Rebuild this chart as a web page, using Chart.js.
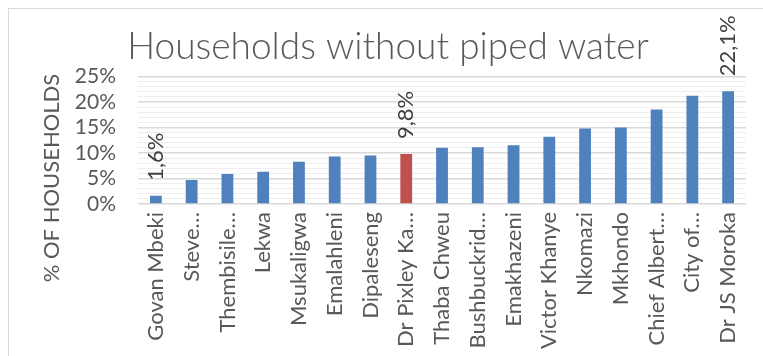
<!DOCTYPE html>
<html>
<head>
<meta charset="utf-8">
<script src="https://cdn.jsdelivr.net/npm/chart.js@4.4.0/dist/chart.umd.min.js"></script>
<style>
    html, body { margin: 0; padding: 0; background: #fff; overflow: hidden; }
    .frame { position: absolute; left: 8px; top: 8px; width: 800px; height: 400px; border: 1px solid #d9d9d9; }
    .chart-box { position: absolute; left: 0; top: 0; width: 763px; height: 356px; }
</style>
</head>
<body>
<div class="frame"></div>
<div class="chart-box"><canvas id="chart"></canvas></div>
<script>
// Local municipalities, sorted by share of households without piped water
const categories = [
    'Govan Mbeki', 'Steve Tshwete', 'Thembisile Hani', 'Lekwa', 'Msukaligwa',
    'Emalahleni', 'Dipaleseng', 'Dr Pixley Ka Isaka Seme', 'Thaba Chweu',
    'Bushbuckridge', 'Emakhazeni', 'Victor Khanye', 'Nkomazi', 'Mkhondo',
    'Chief Albert Luthuli', 'City of Mbombela', 'Dr JS Moroka'
];
// what actually fits under each bar
const tickLabels = [
    'Govan Mbeki', 'Steve…', 'Thembisile…', 'Lekwa', 'Msukaligwa',
    'Emalahleni', 'Dipaleseng', 'Dr Pixley Ka…', 'Thaba Chweu',
    'Bushbuckrid…', 'Emakhazeni', 'Victor Khanye', 'Nkomazi', 'Mkhondo',
    'Chief Albert…', 'City of…', 'Dr JS Moroka'
];
const withoutWater = [1.6, 4.7, 5.9, 6.3, 8.3, 9.3, 9.5, 9.8, 11.0, 11.1, 11.5, 13.2, 14.8, 15.0, 18.5, 21.2, 22.1];
const highlighted = ['Dr Pixley Ka Isaka Seme'];
const labelled = ['Govan Mbeki', 'Dr Pixley Ka Isaka Seme', 'Dr JS Moroka'];
const yTicks = [0, 5, 10, 15, 20, 25];

const BLUE = '#4f81bd';
const RED = '#c0504d';
const TEXT = '#595959';
const FONT = 'Lato, "Liberation Sans", sans-serif';

const pct = v => v.toFixed(1).replace('.', ',') + '%';

// rotated value labels sitting above a few bars
const valueLabels = {
    id: 'valueLabels',
    afterDatasetsDraw(chart) {
        const ctx = chart.ctx;
        const bars = chart.getDatasetMeta(0).data;
        ctx.save();
        ctx.font = '22px ' + FONT;
        ctx.fillStyle = '#404040';
        ctx.textAlign = 'left';
        ctx.textBaseline = 'middle';
        categories.forEach((name, i) => {
            if (!labelled.includes(name)) return;
            const bar = bars[i];
            ctx.save();
            ctx.translate(bar.x, bar.y - 15);
            ctx.rotate(-Math.PI / 2);
            ctx.fillText(pct(withoutWater[i]), 0, 0);
            ctx.restore();
        });
        ctx.restore();
    }
};

// y axis title, centred on the whole chart rather than the plot
const yTitle = {
    id: 'yTitle',
    afterDraw(chart) {
        const ctx = chart.ctx;
        ctx.save();
        ctx.font = '22px ' + FONT;
        ctx.fillStyle = TEXT;
        ctx.textAlign = 'center';
        ctx.textBaseline = 'middle';
        ctx.translate(52, chart.height / 2);
        ctx.rotate(-Math.PI / 2);
        ctx.fillText('% OF HOUSEHOLDS', 0, 0);
        ctx.restore();
    }
};

new Chart(document.getElementById('chart'), {
    type: 'bar',
    data: {
        labels: tickLabels,
        datasets: [{
            data: withoutWater,
            backgroundColor: categories.map(c => highlighted.includes(c) ? RED : BLUE),
            barPercentage: 0.33,
            categoryPercentage: 1
        }]
    },
    options: {
        responsive: true,
        maintainAspectRatio: false,
        animation: false,
        layout: { padding: { left: 29, right: 16, top: 0, bottom: 0 } },
        plugins: {
            legend: { display: false },
            tooltip: { enabled: false },
            title: {
                display: true,
                text: 'Households without piped water',
                color: TEXT,
                font: { family: FONT, size: 37, weight: 300 },
                padding: { top: 25, bottom: 7 }
            }
        },
        scales: {
            x: {
                grid: { display: false, drawTicks: false },
                border: { display: false },
                ticks: {
                    color: TEXT,
                    font: { family: FONT, size: 22 },
                    minRotation: 90,
                    maxRotation: 90,
                    autoSkip: false,
                    padding: 8
                },
                afterFit: s => { s.height = 152; }
            },
            y: {
                min: 0,
                max: 25,
                grid: {
                    drawTicks: false,
                    color: c => c.tick.value % 5 === 0 ? '#d9d9d9' : '#efefef',
                    lineWidth: c => c.tick.value % 5 === 0 ? 1.5 : 1
                },
                border: { display: false },
                ticks: {
                    stepSize: 1,
                    autoSkip: false,
                    color: TEXT,
                    font: { family: FONT, size: 21 },
                    padding: 22,
                    callback: v => yTicks.includes(v) ? v + '%' : ''
                },
                afterFit: s => { s.width = 109; }
            }
        }
    },
    plugins: [valueLabels, yTitle]
});
</script>
</body>
</html>
